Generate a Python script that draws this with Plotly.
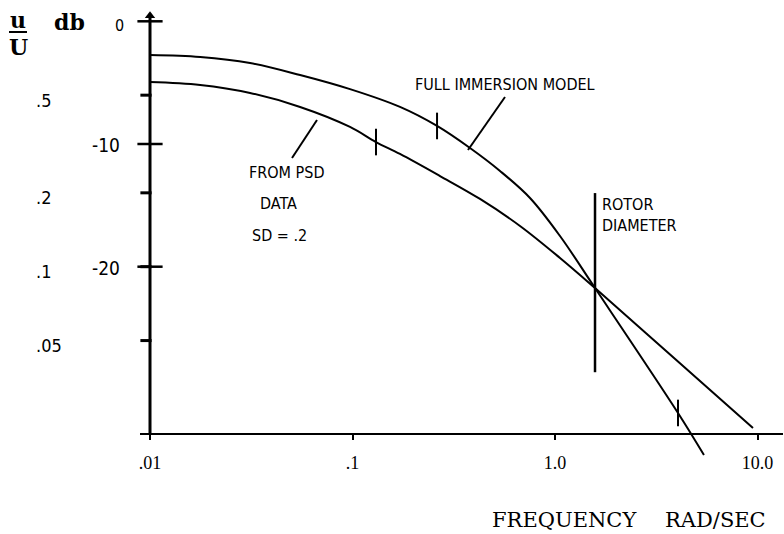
import math
import plotly.graph_objects as go

# ---------------- data ----------------
freq_fim = [0.01, 0.0177, 0.0312, 0.0551, 0.0972, 0.1716, 0.2615, 0.3804, 0.5351,
            0.7525, 1.0585, 1.576, 4.05, 5.44]
db_fim = [-2.75, -2.91, -3.40, -4.38, -5.53, -6.98, -8.53, -10.33, -12.20,
          -14.40, -17.50, -21.74, -31.92, -35.35]

freq_psd = [0.01, 0.0177, 0.0312, 0.0551, 0.0972, 0.1306, 0.1716, 0.2704, 0.4262,
            0.6717, 1.0585, 1.576, 4.14, 9.50]
db_psd = [-4.95, -5.19, -5.84, -6.98, -8.61, -9.84, -10.81, -12.61, -14.48,
          -16.68, -19.29, -21.74, -27.87, -33.15]

fim_tick_freq = [0.2615, 4.05]
fim_tick_db = [-8.53, -31.92]
psd_tick_freq = [0.1306]
psd_tick_db = [-9.84]

rotor_freq = 1.576
rotor_db_span = [-14.0, -28.6]

db_ticks = [0, -10, -20]
db_tick_labels = ["0", "-10", "-20"]
ratio_ticks = [0.5, 0.2, 0.1, 0.05]
ratio_tick_labels = [".5", ".2", ".1", ".05"]
x_ticks = [0.01, 0.1, 1, 10]
x_tick_labels = [".01", ".1", "1.0", "10.0"]
x_axis_db = -33.6
y_axis_top_db = 0.45

# ---------------- layout geometry ----------------
W, H = 784, 534
L, R, T, B = 140, 783, 14, 464
X_RANGE = [-2.0494, 1.1259]
Y_RANGE = [-36.08, 0.595]

ratio_db = [20 * math.log10(v) for v in ratio_ticks]


def px(x, y):
    return (x - L) / (R - L), (B - y) / (B - T)


NARROW = "Liberation Sans Narrow, DejaVu Sans Condensed, Arial Narrow, sans-serif"
SERIF = "DejaVu Serif, serif"

fig = go.Figure()

curve_line = dict(color="black", width=2, shape="spline", smoothing=1.0)
fig.add_trace(go.Scatter(x=freq_fim, y=db_fim, mode="lines", line=curve_line))
fig.add_trace(go.Scatter(x=freq_psd, y=db_psd, mode="lines", line=curve_line))

# y axis line + arrow
fig.add_trace(go.Scatter(x=[x_ticks[0], x_ticks[0]], y=[x_axis_db, y_axis_top_db], mode="lines",
                         line=dict(color="black", width=3)))
fig.add_trace(go.Scatter(x=[x_ticks[0]], y=[y_axis_top_db], mode="markers", cliponaxis=False,
                         marker=dict(symbol="triangle-up", size=9, color="black")))
# dB cross ticks
fig.add_trace(go.Scatter(x=[x_ticks[0]] * len(db_ticks), y=db_ticks, mode="markers", cliponaxis=False,
                         marker=dict(symbol="line-ew", size=18, line=dict(color="black", width=2.5))))
# u/U left ticks
shift = 10 ** (-4 / 202.5)
fig.add_trace(go.Scatter(x=[x_ticks[0] * shift] * len(ratio_db), y=ratio_db, mode="markers",
                         cliponaxis=False,
                         marker=dict(symbol="line-ew", size=8, line=dict(color="black", width=3))))
# curve tick marks
fig.add_trace(go.Scatter(x=fim_tick_freq + psd_tick_freq, y=fim_tick_db + psd_tick_db, mode="markers",
                         cliponaxis=False,
                         marker=dict(symbol="line-ns", size=19, line=dict(color="black", width=2))))
# rotor diameter line
fig.add_trace(go.Scatter(x=[rotor_freq, rotor_freq], y=rotor_db_span, mode="lines",
                         line=dict(color="black", width=2.5)))

annotations = []


def text(s, x, y, size, family, xanchor="left", bold=False):
    px_, py_ = px(x, y)
    annotations.append(dict(text=("<b>%s</b>" % s) if bold else s, x=px_, y=py_, xref="paper",
                            yref="paper", showarrow=False, xanchor=xanchor, yanchor="middle",
                            font=dict(size=size, family=family, color="black")))


# header u/U db
text("u", 18, 20, 22, SERIF, "center", bold=True)
text("U", 18, 47, 22, SERIF, "center", bold=True)
text("db", 52, 22, 22, SERIF, "left", bold=True)
text(db_tick_labels[0], 113, 26, 16, NARROW, "left")
for lab, d in zip(db_tick_labels[1:], db_ticks[1:]):
    y = 21.3 - d * 12.27
    text(lab, 122, y + 1, 19, NARROW, "right")
for lab, d in zip(ratio_tick_labels, ratio_db):
    y = 21.3 - d * 12.27
    text(lab, 34, y + 5, 18, NARROW, "left")

text("FULL IMMERSION MODEL", 413, 84, 16, NARROW)
text("FROM PSD", 247, 172, 16, NARROW)
text("DATA", 258, 203, 16, NARROW)
text("SD = .2", 250, 235, 16, NARROW)
text("ROTOR", 600, 204, 16, NARROW)
text("DIAMETER", 600, 225, 16, NARROW)
text("FREQUENCY", 490, 520, 21, SERIF)
text("RAD/SEC", 663, 520, 21, SERIF)

shapes = []


def seg(x0, y0, x1, y1, w=2):
    a, b = px(x0, y0)
    c, d = px(x1, y1)
    shapes.append(dict(type="line", xref="paper", yref="paper", x0=a, y0=b, x1=c, y1=d,
                       line=dict(color="black", width=w)))


seg(9, 32, 27, 32, 2)          # fraction bar
seg(505, 97, 468, 150, 2)      # leader FULL IMMERSION MODEL
seg(317, 120, 292, 158, 2)     # leader FROM PSD

xpos = (x_axis_db - Y_RANGE[0]) / (Y_RANGE[1] - Y_RANGE[0])

fig.update_layout(
    width=W, height=H,
    margin=dict(l=L, r=W - R, t=T, b=H - B, pad=0),
    paper_bgcolor="white", plot_bgcolor="white",
    showlegend=False,
    annotations=annotations,
    shapes=shapes,
    xaxis=dict(type="log", range=X_RANGE, anchor="free", position=xpos,
               showline=True, linecolor="black", linewidth=2,
               ticks="outside", ticklen=5, tickwidth=2, tickcolor="black",
               tickvals=x_ticks, ticktext=x_tick_labels, ticklabelstandoff=8,
               tickfont=dict(size=18, family="Liberation Serif, serif", color="black"),
               showgrid=False, zeroline=False),
    yaxis=dict(range=Y_RANGE, visible=False, showgrid=False, zeroline=False),
)

fig.write_html("out.html")
